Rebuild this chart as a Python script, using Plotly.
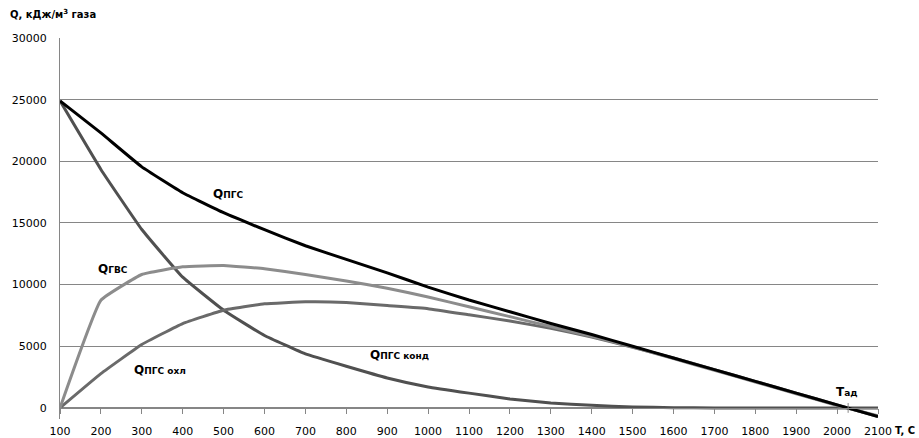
import plotly.graph_objects as go

T = [100, 200, 300, 400, 500, 600, 700, 800, 900, 1000, 1100,
     1200, 1300, 1400, 1500, 1600, 1700, 1800, 1900, 2000, 2100]

Q_pgs = [24900, 22300, 19550, 17450, 15830, 14450, 13150, 12040, 10950, 9800, 8750,
         7800, 6850, 5950, 5000, 4050, 3100, 2150, 1200, 250, -700]
Q_gvs = [0, 8730, 10820, 11440, 11550, 11280, 10820, 10300, 9700, 9000, 8200,
         7400, 6600, 5800, 4950, 4000, 3050, 2100, 1150, 200, -650]
Q_ohl = [0, 2780, 5140, 6840, 7920, 8440, 8600, 8550, 8300, 8050, 7550,
         7050, 6450, 5750, 4920, 4050, 3100, 2150, 1200, 250, -700]
Q_kond = [24900, 19340, 14470, 10600, 7920, 5870, 4380, 3380, 2430, 1700, 1200,
          730, 400, 210, 80, 20, 0, 0, 0, 0, 0]

T_ad = 2027
y_ticks = [0, 5000, 10000, 15000, 20000, 25000, 30000]

FONT = "DejaVu Sans"
W, H = 919, 438
ML, MR, MT, MB = 60, 41, 38, 19
PW, PH = W - ML - MR, H - MT - MB

SM = 0.3
fig = go.Figure()
fig.add_trace(go.Scatter(x=T, y=Q_kond, mode="lines",
                         line=dict(color="#505050", width=3, shape="spline", smoothing=SM), name="Qпгс конд"))
fig.add_trace(go.Scatter(x=T, y=Q_ohl, mode="lines",
                         line=dict(color="#6a6a6a", width=3, shape="spline", smoothing=SM), name="Qпгс охл"))
fig.add_trace(go.Scatter(x=T, y=Q_gvs, mode="lines",
                         line=dict(color="#8c8c8c", width=3, shape="spline", smoothing=SM), name="Qгвс"))
fig.add_trace(go.Scatter(x=T, y=Q_pgs, mode="lines",
                         line=dict(color="#000000", width=3, shape="spline", smoothing=SM), name="Qпгс"))
# Tad marker tick
fig.add_trace(go.Scatter(x=[T_ad, T_ad], y=[-400, 400], mode="lines",
                         line=dict(color="#868686", width=1), showlegend=False))

ymin = -900
ymax = 30000
zero_pos = (0 - ymin) / (ymax - ymin)

fig.update_layout(
    width=W, height=H,
    margin=dict(l=ML, r=MR, t=MT, b=MB, autoexpand=False),
    paper_bgcolor="white", plot_bgcolor="white",
    showlegend=False,
    font=dict(family=FONT, size=11, color="#000000"),
    xaxis=dict(
        range=[100, 2100], tickmode="array", tickvals=T, ticktext=[str(t) for t in T],
        showgrid=False, zeroline=False, showline=True, linecolor="#868686", linewidth=1,
        ticks="outside", ticklen=5, tickcolor="#868686", ticklabelstandoff=8,
        anchor="free", position=zero_pos, automargin=False,
        tickfont=dict(family=FONT, size=11),
    ),
    yaxis=dict(
        range=[ymin, ymax], tickmode="array", tickvals=y_ticks,
        ticktext=[str(v) for v in y_ticks],
        showgrid=True, gridcolor="#868686", gridwidth=1,
        zeroline=False, showline=True, linecolor="#868686", linewidth=1,
        ticks="", ticklabelstandoff=10, automargin=False,
        tickfont=dict(family=FONT, size=11),
    ),
)

def lab(main, sub):
    return f"<b>{main}</b><b><span style='font-size:9px'>{sub}</span></b>"

annotations = [
    dict(x=511, y=17310, text=lab("Q", "ПГС")),
    dict(x=230, y=11230, text=lab("Q", "ГВС")),
    dict(x=344, y=3110, text=lab("Q", "ПГС охл")),
    dict(x=931, y=4330, text=lab("Q", "ПГС конд")),
    dict(x=2024, y=1320, text=lab("T", "ад")),
]
for a in annotations:
    fig.add_annotation(x=a["x"], y=a["y"], xref="x", yref="y", text=a["text"],
                       showarrow=False, font=dict(family=FONT, size=12, color="#000000"))

# absolute page pixel -> paper coords
def px(xa):
    return (xa - ML) / PW

def py(ya):
    return (H - MB - ya) / PH

fig.add_annotation(x=px(8), y=py(14), xref="paper", yref="paper",
                   text="<b>Q, кДж/м<sup>3</sup> газа</b>",
                   showarrow=False, xanchor="left", yanchor="middle",
                   font=dict(family=FONT, size=10))
fig.add_annotation(x=px(893), y=py(430), xref="paper", yref="paper",
                   text="<b>T, C</b>", showarrow=False, xanchor="left", yanchor="middle",
                   font=dict(family=FONT, size=10))

fig.write_html("out.html", config={"displayModeBar": False},
               post_script="document.body.style.margin='0';document.body.style.overflow='hidden';")
